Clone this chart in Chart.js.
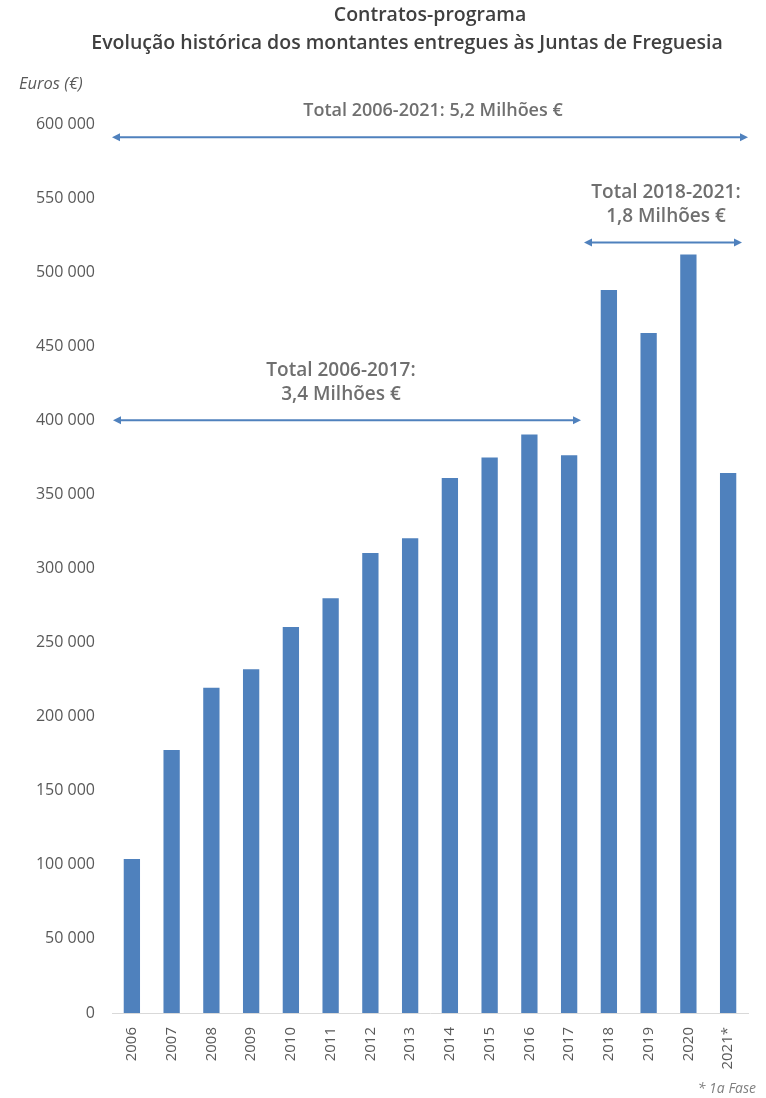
<!DOCTYPE html>
<html lang="pt">
<head>
  <meta charset="UTF-8">
  <title>Contratos-programa</title>
  <style>
    html, body {
      margin: 0;
      padding: 0;
      background: #fff;
    }
    #wrap {
      width: 766px;
      height: 1098px;
    }
  </style>
  <script src="https://cdn.jsdelivr.net/npm/chart.js"></script>
</head>
<body>
  <div id="wrap"><canvas id="chart" width="766" height="1098"></canvas></div>

  <script>
    // Years (x categories) and amounts handed to the Juntas de Freguesia
    const years = ['2006', '2007', '2008', '2009', '2010', '2011', '2012', '2013',
                   '2014', '2015', '2016', '2017', '2018', '2019', '2020', '2021*'];
    const amounts = [104000, 177500, 219500, 232000, 260500, 280000, 310500, 320500,
                     361000, 375000, 390500, 376500, 488000, 459000, 512000, 364500];

    // y axis ticks
    const yTicks = [0, 50000, 100000, 150000, 200000, 250000, 300000,
                    350000, 400000, 450000, 500000, 550000, 600000];

    // Total brackets: first year, last year, level (€) and caption lines
    const spanFrom = ['2006', '2006', '2018'];
    const spanTo = ['2021*', '2017', '2021*'];
    const spanLevel = [591000, 400000, 520000];
    const spanText = [
      ['Total 2006-2021: 5,2 Milhões €'],
      ['Total 2006-2017:', '3,4 Milhões €'],
      ['Total 2018-2021:', '1,8 Milhões €']
    ];

    const titleLines = ['Contratos-programa', 'Evolução histórica dos montantes entregues às Juntas de Freguesia'];

    const blue = '#4F81BD';
    const font = '"Open Sans", "Noto Sans", sans-serif';

    function fmt(v) {
      return v.toString().replace(/\B(?=(\d{3})+(?!\d))/g, ' ');
    }

    function arrow(ctx, x1, x2, y) {
      ctx.save();
      ctx.strokeStyle = blue;
      ctx.fillStyle = blue;
      ctx.lineWidth = 2;
      ctx.beginPath();
      ctx.moveTo(x1 + 4, y);
      ctx.lineTo(x2 - 4, y);
      ctx.stroke();
      // heads
      ctx.beginPath();
      ctx.moveTo(x1, y);
      ctx.lineTo(x1 + 8, y - 4);
      ctx.lineTo(x1 + 8, y + 4);
      ctx.closePath();
      ctx.fill();
      ctx.beginPath();
      ctx.moveTo(x2, y);
      ctx.lineTo(x2 - 8, y - 4);
      ctx.lineTo(x2 - 8, y + 4);
      ctx.closePath();
      ctx.fill();
      ctx.restore();
    }

    const decor = {
      id: 'decor',
      afterDraw(chart) {
        const ctx = chart.ctx;
        const xs = chart.scales.x;
        const ys = chart.scales.y;
        const half = (xs.getPixelForValue(1) - xs.getPixelForValue(0)) / 2;

        ctx.save();
        ctx.textBaseline = 'middle';

        // title
        ctx.fillStyle = '#404040';
        ctx.textAlign = 'center';
        ctx.font = '600 19.5px ' + font;
        ctx.fillText(titleLines[0], 430, 15);
        ctx.fillText(titleLines[1], 407, 43);

        // y axis unit
        ctx.fillStyle = '#595959';
        ctx.textAlign = 'left';
        ctx.font = 'italic 16.5px ' + font;
        ctx.fillText('Euros (€)', 19, 84);

        // footnote
        ctx.textAlign = 'right';
        ctx.fillStyle = '#7f7f7f';
        ctx.font = 'italic 14px ' + font;
        ctx.fillText('* 1a Fase', 756, 1089);

        // total brackets
        const insetL = [0, 1, -5];
        const insetR = [0, 8, 6];
        spanFrom.forEach((from, i) => {
          const a = years.indexOf(from);
          const b = years.indexOf(spanTo[i]);
          const x1 = xs.getPixelForValue(a) - half + insetL[i];
          const x2 = xs.getPixelForValue(b) + half - insetR[i];
          const y = ys.getPixelForValue(spanLevel[i]);
          arrow(ctx, x1, x2, y);

          const lines = spanText[i];
          const cx = i === 1 ? (x1 + x2) / 2 - 6 : (x1 + x2) / 2 + 3;
          ctx.fillStyle = '#6f6f6f';
          ctx.textAlign = 'center';
          ctx.font = (i === 0 ? '600 18px ' : '600 19px ') + font;
          lines.forEach((t, k) => {
            const ty = y - 26 - (lines.length - 1 - k) * 24;
            ctx.fillText(t, cx, ty);
          });
        });
        ctx.restore();
      }
    };

    new Chart(document.getElementById('chart').getContext('2d'), {
      type: 'bar',
      data: {
        labels: years,
        datasets: [{
          data: amounts,
          backgroundColor: blue,
          borderWidth: 0,
          barPercentage: 0.41,
          categoryPercentage: 1
        }]
      },
      options: {
        responsive: false,
        animation: false,
        events: [],
        layout: {
          padding: { left: 0, right: 18, top: 124, bottom: 0 }
        },
        plugins: {
          legend: { display: false },
          tooltip: { enabled: false },
          title: { display: false }
        },
        scales: {
          x: {
            grid: { display: false, drawTicks: false },
            border: { display: true, color: '#d9d9d9', width: 1 },
            ticks: {
              color: '#595959',
              font: { family: font, size: 15 },
              minRotation: 90,
              maxRotation: 90,
              padding: 14,
              autoSkip: false
            },
            afterFit(scale) { scale.height = 85; }
          },
          y: {
            min: 0,
            max: 600000,
            grid: { display: false, drawTicks: false },
            border: { display: false },
            afterBuildTicks(scale) {
              scale.ticks = yTicks.map(v => ({ value: v }));
            },
            ticks: {
              color: '#595959',
              font: { family: font, size: 16 },
              padding: 17,
              callback: v => fmt(v)
            },
            afterFit(scale) { scale.width = 112; }
          }
        }
      },
      plugins: [decor]
    });
  </script>
</body>
</html>
